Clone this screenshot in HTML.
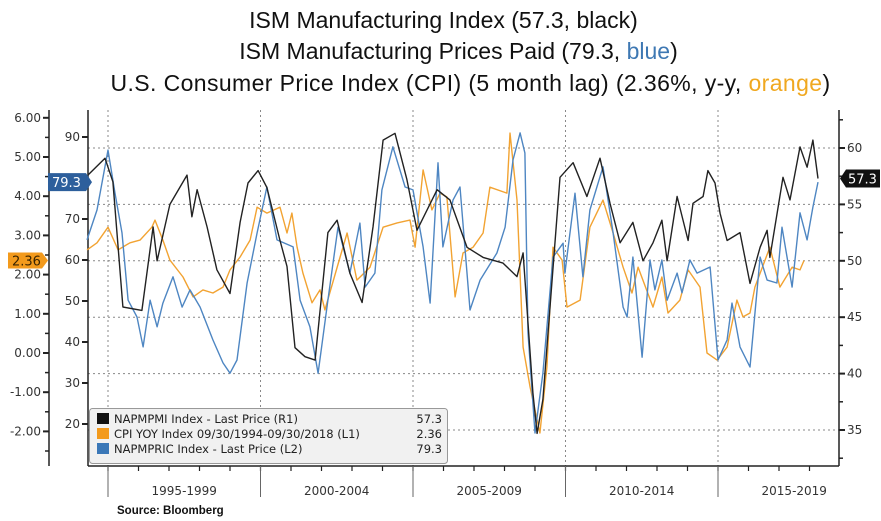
<!DOCTYPE html>
<html><head><meta charset="utf-8">
<style>
body{margin:0;background:#fff;width:881px;height:521px;overflow:hidden;font-family:"Liberation Sans",sans-serif}
.t{position:absolute;left:0;width:881px;text-align:center;font-size:23px;color:#111;font-family:"Liberation Sans",sans-serif}
</style></head><body>
<div class="t" style="top:7px;left:3px">ISM Manufacturing Index (57.3, black)</div>
<div class="t" style="top:38px;left:18px">ISM Manufacturing Prices Paid (79.3, <span style="color:#3e78b3">blue</span>)</div>
<div class="t" style="top:70px;left:30px;letter-spacing:0.4px">U.S. Consumer Price Index (CPI) (5 month lag) (2.36%, y-y, <span style="color:#f0a820">orange</span>)</div>
<svg id="c" width="881" height="521" style="position:absolute;left:0;top:0" font-family="DejaVu Sans, Liberation Sans, sans-serif"></svg>
<script>
const pmiDates=[1994.34,1994.90,1995.16,1995.49,1996.11,1996.48,1996.61,1997.03,1997.59,1997.75,1997.92,1998.25,1998.57,1999.00,1999.33,1999.59,1999.92,2000.21,2000.64,2000.87,2001.13,2001.46,2001.79,2002.21,2002.51,2002.93,2003.33,2003.69,2004.02,2004.41,2004.80,2005.13,2005.79,2006.21,2006.77,2007.30,2007.95,2008.41,2008.61,2008.93,2009.07,2009.26,2009.82,2010.25,2010.70,2011.13,2011.46,2011.79,2012.21,2012.54,2012.87,2013.16,2013.33,2013.66,2014.02,2014.18,2014.51,2014.67,2014.90,2015.07,2015.30,2015.72,2016.05,2016.38,2016.61,2016.70,2017.13,2017.36,2017.69,2017.92,2018.11,2018.28];
const pmiValues=[57.6,59.1,57.0,45.9,45.6,53,50,55,57.6,53.9,56.3,53,49.2,47.1,53.4,56.9,58,56.5,51.8,49.5,42.3,41.5,41.2,52.5,53.6,48.9,46.3,53,60.7,61.3,57.2,52.7,56.3,55.4,51.2,50.3,49.8,48.6,50.7,38.3,34.7,37.7,57.4,58.7,55.7,59.1,55.1,51.6,53.4,50,51.6,53.6,50,55.7,51.8,55.1,55.7,58,56.9,54.2,51.8,52.5,48,51.2,52.7,50.3,57.4,55.4,60.1,58.3,60.7,57.3];
const priceDates=[1994.31,1994.64,1995.00,1995.23,1995.46,1995.66,1995.95,1996.15,1996.38,1996.61,1996.80,1997.13,1997.43,1997.69,1998.02,1998.44,1998.77,1999.00,1999.23,1999.56,1999.89,2000.21,2000.54,2001.07,2001.30,2001.62,2001.89,2002.21,2002.54,2002.93,2003.26,2003.43,2003.75,2003.98,2004.34,2004.74,2005.00,2005.33,2005.56,2005.82,2005.98,2006.31,2006.54,2006.87,2007.20,2007.75,2008.02,2008.28,2008.51,2008.67,2008.77,2009.00,2009.26,2009.59,2009.92,2009.98,2010.31,2010.57,2010.80,2011.23,2011.56,2011.89,2012.02,2012.21,2012.51,2012.77,2012.93,2013.16,2013.33,2013.66,2013.82,2014.08,2014.31,2014.74,2015.00,2015.30,2015.46,2015.72,2016.05,2016.38,2016.61,2016.93,2017.10,2017.43,2017.69,2017.92,2018.11,2018.28];
const priceValues=[64.9,72.2,86.8,76.3,66.6,50.2,46.1,38.8,50.2,43.7,49.5,55.9,48.5,52.7,48.5,40.5,34.9,32.4,35.6,54.4,66.6,77.8,64.9,63.2,50.2,43.7,32.4,50.2,68,56.8,69,53.4,56.8,77.1,87.6,77.8,77.1,63.2,49.5,83.7,63.2,74.6,77.8,47.8,55.1,61.7,68,84.4,91,86.1,42.2,17.8,32.4,60.7,64.1,56.8,76.3,55.9,72.2,82.7,66.6,48.5,46.1,60.7,36.3,60,52.7,60,50.2,56.8,52,60,56.8,58.3,35.6,40.5,49.5,38.8,33.9,60.7,55.1,54.4,68,53.4,71.5,64.9,72.9,79];
const cpiDates=[1994.31,1994.64,1995.00,1995.33,1995.72,1996.05,1996.44,1996.54,1996.80,1997.03,1997.46,1997.79,1998.11,1998.44,1998.77,1999.00,1999.33,1999.66,1999.89,2000.21,2000.64,2000.87,2001.03,2001.20,2001.39,2001.69,2001.95,2002.11,2002.61,2002.84,2003.16,2003.59,2004.02,2004.48,2004.90,2005.07,2005.33,2005.62,2005.89,2006.11,2006.38,2006.64,2006.97,2007.30,2007.52,2008.08,2008.18,2008.41,2008.61,2008.84,2009.16,2009.39,2009.59,2009.89,2010.05,2010.48,2010.80,2011.23,2011.56,2011.89,2012.18,2012.38,2012.87,2013.16,2013.36,2013.75,2014.02,2014.41,2014.64,2014.97,2015.30,2015.62,2015.82,2016.05,2016.21,2016.70,2017.03,2017.43,2017.69,2017.82];
const cpiValues=[2.63,2.81,3.21,2.63,2.81,2.88,3.21,3.39,2.88,2.37,1.94,1.43,1.61,1.53,1.68,2.12,2.45,2.88,3.72,3.57,3.72,3.06,3.57,2.7,2.04,1.28,1.61,1.1,2.45,3.06,1.86,2.19,3.21,3.32,3.39,2.7,4.67,3.65,4.08,3.98,1.43,2.55,2.7,3.06,4.23,4.08,5.61,3.9,0.15,-0.87,-2.04,-0.36,2.7,2.37,1.17,1.35,3.21,3.9,3.06,2.19,1.53,2.19,1.17,1.94,1.02,1.35,2.12,1.68,0,-0.18,0.15,1.35,0.92,1.02,1.68,2.7,1.68,2.19,2.12,2.36];
const l1Ticks=[6,5,4,3,2,1,0,-1,-2];
const l2Ticks=[90,80,70,60,50,40,30,20];
const r1Ticks=[60,55,50,45,40,35];
const periodLabels=["1995-1999","2000-2004","2005-2009","2010-2014","2015-2019"];
const periodStarts=[1995,2000,2005,2010,2015];

const X=t=>108+(t-1995)*30.5;
const YR=v=>148+(60-v)*11.28;
const YL2=v=>260+(60-v)*4.1;
const YL1=v=>353-v*39.2;
const svg=document.getElementById('c');
const NS='http://www.w3.org/2000/svg';
function mk(tag,attrs,parent){const e=document.createElementNS(NS,tag);for(const k in attrs)e.setAttribute(k,attrs[k]);(parent||svg).appendChild(e);return e;}
const TOP=110,BOT=466,LEFT=88,RIGHT=839;
r1Ticks.forEach(v=>{const g=mk('line',{x1:LEFT,x2:RIGHT,y1:YR(v),y2:YR(v),stroke:'#888','stroke-dasharray':'2,3','stroke-width':1});
});
periodStarts.forEach(t=>{const g=mk('line',{x1:X(t),x2:X(t),y1:TOP,y2:BOT,stroke:'#888','stroke-dasharray':'2,3','stroke-width':1});
});
const ax={stroke:'#222','stroke-width':1.5};
let a=mk('line',{x1:49,x2:49,y1:TOP,y2:BOT,...ax});
a=mk('line',{x1:LEFT,x2:LEFT,y1:TOP,y2:BOT,...ax});
a=mk('line',{x1:RIGHT,x2:RIGHT,y1:TOP,y2:BOT,...ax});
a=mk('line',{x1:LEFT,x2:RIGHT,y1:BOT,y2:BOT,...ax});
l1Ticks.forEach(v=>{mk('line',{x1:43,x2:49,y1:YL1(v),y2:YL1(v),stroke:'#222','stroke-width':2});
mk('line',{x1:45,x2:49,y1:YL1(v-0.5),y2:YL1(v-0.5),stroke:'#222','stroke-width':1.5});
const t=mk('text',{x:41,y:YL1(v)+4,'text-anchor':'end','font-size':12,fill:'#333'});t.textContent=v.toFixed(2);
});
l2Ticks.forEach(v=>{mk('line',{x1:82,x2:88,y1:YL2(v),y2:YL2(v),stroke:'#222','stroke-width':2});
if(v!==80){const t=mk('text',{x:80,y:YL2(v)+4,'text-anchor':'end','font-size':12,fill:'#333'});t.textContent=v;
}});
r1Ticks.forEach(v=>{mk('line',{x1:839,x2:845,y1:YR(v),y2:YR(v),stroke:'#222','stroke-width':2});
mk('line',{x1:839,x2:843,y1:YR(v+2.5),y2:YR(v+2.5),stroke:'#222','stroke-width':1.5});
const t=mk('text',{x:847,y:YR(v)+4,'font-size':12,fill:'#333'});t.textContent=v;
});
mk('line',{x1:839,x2:843,y1:YR(32.5),y2:YR(32.5),stroke:'#222','stroke-width':1.5});
for(let y=1995;y<=2018;y++){mk('line',{x1:X(y),x2:X(y),y1:BOT,y2:BOT+5,stroke:'#222','stroke-width':1.2});}
periodStarts.forEach((t,i)=>{mk('line',{x1:X(t),x2:X(t),y1:BOT,y2:497,stroke:'#666','stroke-width':1});
const tx=mk('text',{x:X(t+2.5),y:495,'text-anchor':'middle','font-size':12,fill:'#333'});tx.textContent=periodLabels[i];
});
function line(d,v,ys,col,name){const p=mk('polyline',{points:d.map((t,i)=>X(t).toFixed(1)+','+ys(v[i]).toFixed(1)).join(' '),fill:'none',stroke:col,'stroke-width':1.4,'stroke-linejoin':'round'});
}
line(cpiDates,cpiValues,YL1,'#f2a332','cpi-line');
line(priceDates,priceValues,YL2,'#4e86c2','prices-paid-line');
line(pmiDates,pmiValues,YR,'#222','ism-pmi-line');
function tag(pts,fill,tx,txc,x,y,name){const g=mk('g',{});
mk('polygon',{points:pts,fill:fill},g);const t=mk('text',{x:x,y:y,'font-size':13,fill:txc},g);t.textContent=tx;}
const by=YL2(priceValues[priceValues.length-1]);
tag(`48,${by-9} 86,${by-9} 92,${by} 86,${by+9} 48,${by+9}`,'#2d5f9c','79.3','#fff',52,by+5,'prices-paid-tag');
const oy=YL1(cpiValues[cpiValues.length-1]);
tag(`8,${oy-8} 42,${oy-8} 48,${oy} 42,${oy+8} 8,${oy+8}`,'#f39a1c','2.36','#3a2400',12,oy+5,'cpi-tag');
const ky=YR(pmiValues[pmiValues.length-1]);
tag(`840,${ky} 846,${ky-9} 880,${ky-9} 880,${ky+9} 846,${ky+9}`,'#111','57.3','#fff',848,ky+5,'pmi-tag');
const lg=mk('g',{});
mk('rect',{x:89.5,y:408.5,width:358,height:55,rx:3,fill:'#f1f1f1',stroke:'#999'},lg);
const leg=[["#111","NAPMPMI Index - Last Price (R1)","57.3"],["#f39a1c","CPI YOY Index 09/30/1994-09/30/2018 (L1)","2.36"],["#3b78b8","NAPMPRIC Index - Last Price (L2)","79.3"]];
leg.forEach((r,i)=>{const e=mk('g',{},lg);
const y=419+i*15;mk('rect',{x:97,y:y-6,width:12,height:11,fill:r[0]},e);
let t=mk('text',{x:114,y:y+4,'font-size':11.5,fill:'#222'},e);t.textContent=r[1];
t=mk('text',{x:442,y:y+4,'font-size':11.5,fill:'#222','text-anchor':'end'},e);t.textContent=r[2];});
const s=mk('text',{x:117,y:514,'font-size':11.5,'font-weight':'bold',fill:'#111','font-family':'Liberation Sans, sans-serif'});s.textContent='Source: Bloomberg';

</script>
</body></html>
